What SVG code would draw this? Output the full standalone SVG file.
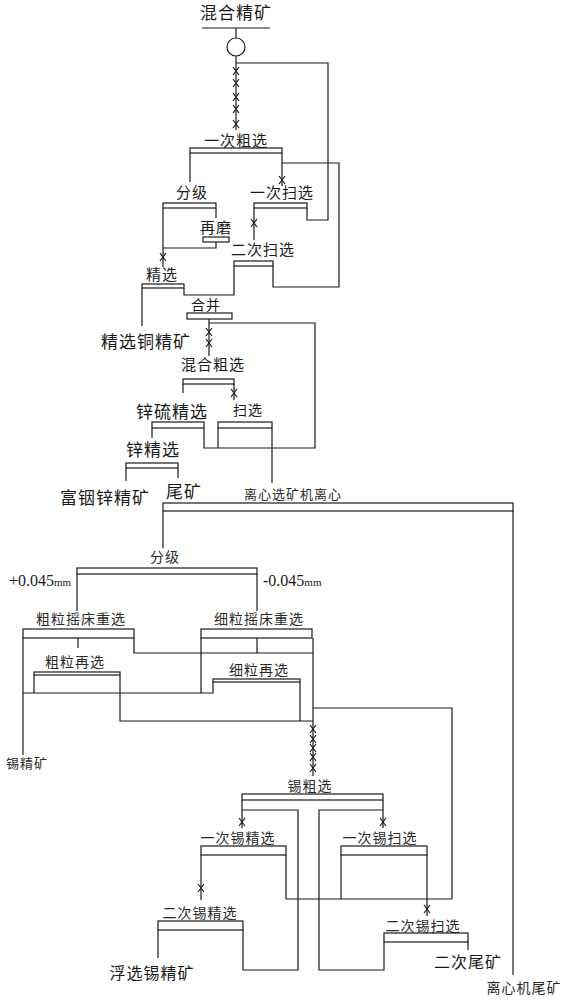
<svg xmlns="http://www.w3.org/2000/svg" xmlns:xlink="http://www.w3.org/1999/xlink" width="564" height="1000" viewBox="0 0 564 1000">
<defs>
<style>
.ln{stroke:#1a1a1a;stroke-width:1.2;fill:none}
.bx{stroke:#1a1a1a;stroke-width:1.2;fill:#fff}
.t{font-family:"Noto Sans CJK SC","Noto Sans",sans-serif;fill:#1a1a1a;text-anchor:middle;letter-spacing:1px}
.g{fill:#2a2a2a}
.n{font-family:"Liberation Serif","DejaVu Serif",serif;fill:#1a1a1a}
</style>
<path id="x" d="M-3,-4 L3,4 M3,-4 L-3,4" class="ln"/>
</defs>
<rect width="564" height="1000" fill="#fff"/>

<g id="connectors" class="ln">
<path d="M236,56 V130"/>
<path d="M307,208 V220 H328 V63 H236"/>
<path d="M282,153 V186"/>
<path d="M190,153 V182"/>
<path d="M163,208 V267"/>
<path d="M216,208 V218"/>
<path d="M216,242 V248 H163"/>
<path d="M254,208 V240"/>
<path d="M273,266 V287 H339 V163 H282"/>
<path d="M142,288 V326"/>
<path d="M184,288 V295 H234 V266"/>
<path d="M209,319 V356"/>
<path d="M209,323 H315 V448 H204 V428"/>
<path d="M218,428 V448"/>
<path d="M183,384 V393"/>
<path d="M234,384 V400"/>
<path d="M272,428 V483"/>
<path d="M152,428 V438"/>
<path d="M126,468 V481"/>
<path d="M178,468 V478"/>
<path d="M163,511 V548"/>
<path d="M513,511 V975"/>
<path d="M77,574 V611"/>
<path d="M257,574 V611"/>
<path d="M23,638 V755"/>
<path d="M78,638 V648"/>
<path d="M134,638 V653 H313"/>
<path d="M257,638 V653"/>
<path d="M201,638 V693"/>
<path d="M23,693 H213 V682"/>
<path d="M34,675 V693"/>
<path d="M120,675 V721 H313"/>
<path d="M300,682 V721"/>
<path d="M313,638 V776"/>
<path d="M313,708 H452 V899"/>
<path d="M242,800 V828"/>
<path d="M383,800 V828"/>
<path d="M242,810 H298 V970 H243 V930"/>
<path d="M383,810 H319 V970 H384 V942"/>
<path d="M201,855 V900"/>
<path d="M286,855 V899 H452"/>
<path d="M341,855 V899"/>
<path d="M427,855 V916"/>
<path d="M158,930 V958"/>
<path d="M468,942 V950"/>
<use xlink:href="#x" x="236" y="71"/>
<use xlink:href="#x" x="236" y="83"/>
<use xlink:href="#x" x="236" y="97"/>
<use xlink:href="#x" x="236" y="109"/>
<use xlink:href="#x" x="236" y="124"/>
<use xlink:href="#x" x="282" y="180"/>
<use xlink:href="#x" x="163" y="257"/>
<use xlink:href="#x" x="254" y="223"/>
<use xlink:href="#x" x="209" y="332"/>
<use xlink:href="#x" x="209" y="343"/>
<use xlink:href="#x" x="234" y="393"/>
<use xlink:href="#x" x="313" y="729"/>
<use xlink:href="#x" x="313" y="739"/>
<use xlink:href="#x" x="313" y="748"/>
<use xlink:href="#x" x="313" y="757"/>
<use xlink:href="#x" x="313" y="768"/>
<use xlink:href="#x" x="242" y="822"/>
<use xlink:href="#x" x="383" y="822"/>
<use xlink:href="#x" x="201" y="888"/>
<use xlink:href="#x" x="427" y="909"/>
</g>

<g id="feed">
<text class="t" x="236" y="19" font-size="17">混合精矿</text>
<path class="ln" d="M202,28 H270 M236,28 V38"/>
<circle class="bx" cx="236" cy="47" r="9"/>
</g>
<g id="rough1"><text class="t" x="236" y="146" font-size="15">一次粗选</text><rect class="bx" x="190" y="148" width="92" height="5"/></g>
<g id="classify1"><text class="t" x="192" y="198" font-size="15">分级</text><rect class="bx" x="163" y="203" width="53" height="5"/></g>
<g id="scav1"><text class="t" x="282" y="198" font-size="15">一次扫选</text><rect class="bx" x="254" y="203" width="53" height="5"/></g>
<g id="regrind"><text class="t" x="216" y="233" font-size="15">再磨</text><rect class="bx" x="203" y="237" width="26" height="5"/></g>
<g id="scav2"><text class="t" x="263" y="255" font-size="15">二次扫选</text><rect class="bx" x="234" y="261" width="39" height="5"/></g>
<g id="clean1"><text class="t" x="162" y="280" font-size="15">精选</text><rect class="bx" x="142" y="284" width="42" height="4"/></g>
<g id="cu-conc"><text class="t" x="146" y="348" font-size="17">精选铜精矿</text></g>
<g id="merge"><text class="t" x="206" y="310" font-size="14">合并</text><rect class="bx" x="187" y="313" width="45" height="6"/></g>
<g id="mixrough"><text class="t" x="213" y="370" font-size="15">混合粗选</text><rect class="bx" x="183" y="379" width="51" height="5"/></g>
<g id="znsclean"><text class="t" x="172" y="418" font-size="17">锌硫精选</text><rect class="bx" x="152" y="422" width="52" height="6"/></g>
<g id="scav3"><text class="t" x="248" y="415" font-size="14">扫选</text><rect class="bx" x="218" y="422" width="54" height="6"/></g>
<g id="znclean"><text class="t" x="153" y="456" font-size="17">锌精选</text><rect class="bx" x="126" y="463" width="52" height="5"/></g>
<g id="in-zn-conc"><text class="t" x="105" y="504" font-size="17">富铟锌精矿</text></g>
<g id="tail1"><text class="t" x="184" y="498" font-size="17">尾矿</text></g>
<g id="centrifuge"><text class="t g" x="293" y="499" font-size="13">离心选矿机离心</text><rect class="bx" x="163" y="503" width="350" height="8"/></g>
<g id="centrifuge-tail"><text class="t g" x="524" y="993" font-size="14">离心机尾矿</text></g>
<g id="classify2"><text class="t g" x="165" y="562" font-size="14">分级</text><rect class="bx" x="77" y="568" width="180" height="6"/>
<text class="n" x="9" y="586" font-size="16">+0.045<tspan font-size="11">mm</tspan></text>
<text class="n" x="263" y="586" font-size="16">-0.045<tspan font-size="11">mm</tspan></text></g>
<g id="coarse-table"><text class="t g" x="81" y="624" font-size="14">粗粒摇床重选</text><rect class="bx" x="23" y="629" width="111" height="9"/></g>
<g id="fine-table"><text class="t g" x="259" y="624" font-size="14">细粒摇床重选</text><rect class="bx" x="201" y="629" width="111" height="9"/></g>
<g id="coarse-re"><text class="t g" x="75" y="667" font-size="14">粗粒再选</text><rect class="bx" x="34" y="672" width="86" height="3"/></g>
<g id="fine-re"><text class="t g" x="259" y="675" font-size="14">细粒再选</text><rect class="bx" x="213" y="679" width="87" height="3"/></g>
<g id="sn-conc"><text class="t g" x="27" y="768" font-size="13">锡精矿</text></g>
<g id="sn-rough"><text class="t g" x="310" y="791" font-size="14">锡粗选</text><rect class="bx" x="242" y="794" width="141" height="6"/></g>
<g id="sn-clean1"><text class="t g" x="238" y="843" font-size="14">一次锡精选</text><rect class="bx" x="201" y="846" width="85" height="9"/></g>
<g id="sn-scav1"><text class="t g" x="380" y="843" font-size="14">一次锡扫选</text><rect class="bx" x="341" y="846" width="86" height="9"/></g>
<g id="sn-clean2"><text class="t g" x="200" y="918" font-size="14">二次锡精选</text><rect class="bx" x="158" y="921" width="85" height="9"/></g>
<g id="flot-sn-conc"><text class="t" x="152" y="979" font-size="16">浮选锡精矿</text></g>
<g id="sn-scav2"><text class="t g" x="423" y="931" font-size="14">二次锡扫选</text><rect class="bx" x="384" y="933" width="84" height="9"/></g>
<g id="tail2"><text class="t" x="468" y="968" font-size="16">二次尾矿</text></g>
</svg>
